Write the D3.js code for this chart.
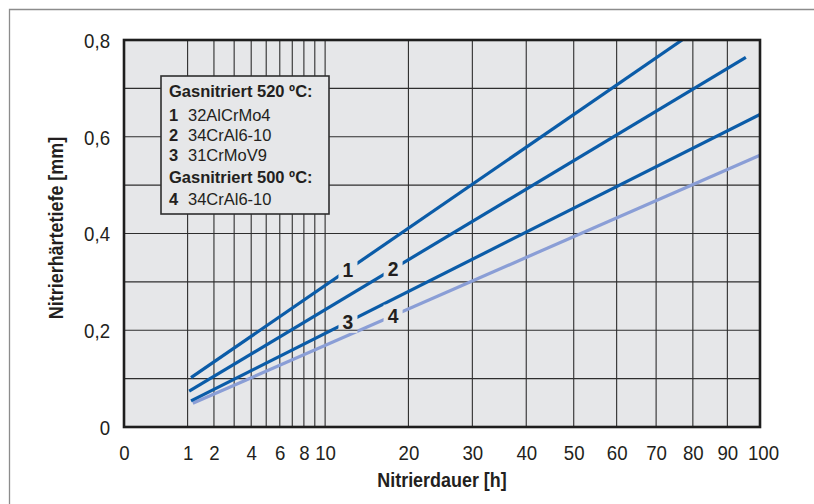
<!DOCTYPE html>
<html>
<head>
<meta charset="utf-8">
<script src="https://cdn.jsdelivr.net/npm/d3@7"></script>
<style>
  html, body { margin: 0; padding: 0; background: #fff; }
  svg { display: block; font-family: "Liberation Sans", Arial, Helvetica, sans-serif; }
</style>
</head>
<body>
<svg id="chart" width="814" height="504"></svg>
<script>
// Nitrierdauer (h): grid lines and labelled ticks
const gridHours = [1, 2, 3, 4, 5, 6, 7, 8, 9, 10, 20, 30, 40, 50, 60, 70, 80, 90, 100];
const tickHours = [0, 1, 2, 4, 6, 8, 10, 20, 30, 40, 50, 60, 70, 80, 90, 100];

// Nitrierhärtetiefe (mm)
const gridDepth = [0.1, 0.2, 0.3, 0.4, 0.5, 0.6, 0.7];
const tickDepth = [0, 0.2, 0.4, 0.6, 0.8];

// Curves: [Nitrierdauer h, Nitrierhärtetiefe mm]
const curve1 = [[1.11, 0.102], [77, 0.80]];
const curve2 = [[1.05, 0.074], [95.6, 0.764]];
const curve3 = [[1.11, 0.054], [100, 0.646]];
const curve4 = [[1.17, 0.049], [100, 0.562]];

const curveIds = ["1", "2", "3", "4"];
const curveLabelHours = [12.4, 17.9, 12.4, 17.9];

// Legend text
const legendHead520 = "Gasnitriert 520 ºC:";
const legendHead500 = "Gasnitriert 500 ºC:";
const legendSteels = ["32AlCrMo4", "34CrAl6-10", "31CrMoV9", "34CrAl6-10"];

const svg = d3.select("#chart");
const dark = "#0b5ca8", light = "#8a9ed6", ink = "#231f20", plotFill = "#e6e7e9";

// narrow the glyphs horizontally around the text's own anchor
function condense(sel, sx) {
  sel.each(function () {
    const t = d3.select(this);
    const ax = +t.attr("x") || 0;
    t.attr("transform", `translate(${ax},0) scale(${sx},1) translate(${-ax},0)`);
  });
}

const x = d3.scaleSqrt().domain([0, 100]).range([124, 760]);
const y = d3.scaleLinear().domain([0, 0.8]).range([427, 40]);
const [x0, x1] = x.range();
const [y0, y1] = y.range();

// outer frame
svg.append("path")
  .attr("d", "M9.5,504V9.5H814")
  .attr("fill", "none").attr("stroke", "#8c8c8c").attr("stroke-width", 1.3);

// plot background
svg.append("rect")
  .attr("x", x0).attr("y", y1).attr("width", x1 - x0).attr("height", y0 - y1)
  .attr("fill", plotFill);

// grid
const grid = svg.append("g").attr("stroke", "#2e2e2e").attr("stroke-width", 1.1);
grid.selectAll("line.v").data(gridHours).join("line")
  .attr("x1", d => x(d)).attr("x2", d => x(d)).attr("y1", y0).attr("y2", y1);
grid.selectAll("line.h").data(gridDepth).join("line")
  .attr("y1", d => y(d)).attr("y2", d => y(d)).attr("x1", x0).attr("x2", x1);

// axes (labels only; the frame draws the axis lines)
const xAxis = d3.axisBottom(x).tickValues(tickHours).tickSize(0).tickPadding(0)
  .tickFormat(d3.format("d"));
const gx = svg.append("g").attr("transform", `translate(0,${y0})`).call(xAxis);
gx.select(".domain").remove();
gx.selectAll("text").attr("y", 33).attr("dy", null)
  .attr("font-size", 20.5).attr("fill", ink).attr("font-family", null);
gx.selectAll(".tick").filter(d => d === 100).select("text").attr("x", 3);
condense(gx.selectAll("text"), 0.91);

const yAxis = d3.axisLeft(y).tickValues(tickDepth).tickSize(0).tickPadding(14)
  .tickFormat(d => d === 0 ? "0" : d3.format(".1f")(d).replace(".", ","));
const gy = svg.append("g").attr("transform", `translate(${x0},0)`).call(yAxis);
gy.select(".domain").remove();
gy.selectAll("text").attr("dy", "0.36em")
  .attr("font-size", 20.5).attr("fill", ink).attr("font-family", null);
condense(gy.selectAll("text"), 0.91);

// axis titles
const xt = svg.append("text")
  .attr("x", (x0 + x1) / 2).attr("y", 487)
  .attr("text-anchor", "middle").attr("font-weight", "bold").attr("font-size", 19.5)
  .attr("fill", ink).text("Nitrierdauer [h]");
condense(xt, 0.92);
svg.append("g").attr("transform", "translate(63,228) rotate(-90)")
  .append("text")
  .attr("text-anchor", "middle").attr("font-weight", "bold").attr("font-size", 19.5)
  .attr("fill", ink).text("Nitrierhärtetiefe [mm]")
  .call(condense, 0.92);

// curves, with gaps around their number labels
const curves = [curve1, curve2, curve3, curve4];
const colors = [dark, dark, dark, light];

const labelPos = curves.map((c, i) => {
  const [a, b] = c;
  const px = x(curveLabelHours[i]);
  const ax = x(a[0]), bx = x(b[0]), ay = y(a[1]), by = y(b[1]);
  return [px, ay + (by - ay) * (px - ax) / (bx - ax)];
});

const defs = svg.append("defs");
defs.append("clipPath").attr("id", "plotClip")
  .append("rect").attr("x", x0).attr("y", y1).attr("width", x1 - x0).attr("height", y0 - y1);
const mask = defs.append("mask").attr("id", "labelGap").attr("maskUnits", "userSpaceOnUse")
  .attr("x", 0).attr("y", 0).attr("width", 814).attr("height", 504);
mask.append("rect").attr("width", 814).attr("height", 504).attr("fill", "#fff");
mask.selectAll("rect.gap").data(labelPos).join("rect").attr("class", "gap")
  .attr("x", d => d[0] - 9.5).attr("y", d => d[1] - 11)
  .attr("width", 19).attr("height", 22).attr("fill", "#000");

const line = d3.line().x(d => x(d[0])).y(d => y(d[1]));
const gc = svg.append("g").attr("clip-path", "url(#plotClip)")
  .append("g").attr("mask", "url(#labelGap)");
// light curve underneath the dark ones
[3, 2, 1, 0].forEach(i => {
  gc.append("path").attr("d", line(curves[i]))
    .attr("fill", "none").attr("stroke", colors[i]).attr("stroke-width", 3.2);
});

svg.selectAll("text.cid").data(labelPos).join("text").attr("class", "cid")
  .attr("x", d => d[0]).attr("y", d => d[1] + 7.5)
  .attr("text-anchor", "middle").attr("font-weight", "bold").attr("font-size", 21)
  .attr("fill", ink).text((d, i) => curveIds[i])
  .call(condense, 0.92);

// plot frame
svg.append("rect")
  .attr("x", x0).attr("y", y1).attr("width", x1 - x0).attr("height", y0 - y1)
  .attr("fill", "none").attr("stroke", "#1e1e1e").attr("stroke-width", 2.6);

// legend
const lg = svg.append("g").attr("fill", ink).attr("font-size", 17.2);
lg.append("rect").attr("x", 161).attr("y", 76).attr("width", 168).attr("height", 138)
  .attr("fill", plotFill).attr("stroke", "#2e2e2e").attr("stroke-width", 1.6);
const rows = [
  { num: null, text: legendHead520 },
  { num: curveIds[0], text: legendSteels[0] },
  { num: curveIds[1], text: legendSteels[1] },
  { num: curveIds[2], text: legendSteels[2] },
  { num: null, text: legendHead500 },
  { num: curveIds[3], text: legendSteels[3] }
];
const baselines = [97.5, 121.5, 141.5, 161.5, 183.5, 205.5];
rows.forEach((r, i) => {
  if (r.num) {
    lg.append("text").attr("x", 169).attr("y", baselines[i])
      .attr("font-weight", "bold").text(r.num).call(condense, 0.96);
    lg.append("text").attr("x", 188).attr("y", baselines[i]).text(r.text).call(condense, 0.96);
  } else {
    lg.append("text").attr("x", 169).attr("y", baselines[i])
      .attr("font-weight", "bold").text(r.text).call(condense, 0.96);
  }
});
</script>
</body>
</html>
